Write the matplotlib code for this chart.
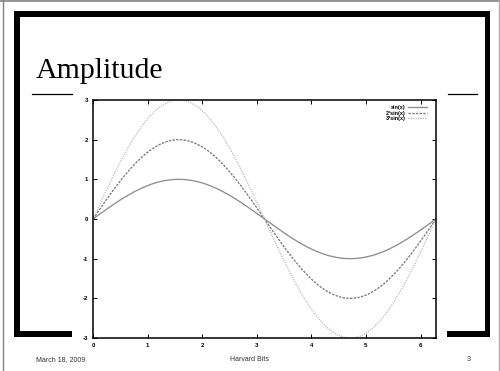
import numpy as np
import matplotlib
matplotlib.use("Agg")
import matplotlib.pyplot as plt
from matplotlib.patches import Rectangle
from matplotlib.lines import Line2D

W, H = 500, 371

# Curve definitions
amplitudes = [1, 2, 3]
labels = ["sin(x)", "2*sin(x)", "3*sin(x)"]
colors = ["#8e8e8e", "#7a7a7a", "#b4b4b4"]
styles = ["-", (0, (1.8, 1.0)), (0, (0.8, 1.0))]
x_ticks = [0, 1, 2, 3, 4, 5, 6]
y_ticks = [-3, -2, -1, 0, 1, 2, 3]

x = np.linspace(0, 2 * np.pi, 400)

fig = plt.figure(figsize=(W / 100, H / 100), dpi=100)
fig.patch.set_facecolor("white")


def rect(x0, y0, x1, y1, color="black"):
    """Rectangle given in pixel coordinates measured from the top-left."""
    fig.patches.append(Rectangle((x0 / W, 1 - y1 / H), (x1 - x0) / W, (y1 - y0) / H,
                                 transform=fig.transFigure, facecolor=color,
                                 edgecolor="none", zorder=0))


def hline(x0, x1, y, color="black", lw=1.0):
    fig.add_artist(Line2D([x0 / W, x1 / W], [1 - y / H, 1 - y / H],
                          transform=fig.transFigure, color=color, lw=lw))


def vline(x0, y0, y1, color="black", lw=1.0):
    fig.add_artist(Line2D([x0 / W, x0 / W], [1 - y0 / H, 1 - y1 / H],
                          transform=fig.transFigure, color=color, lw=lw))


# Slide border (top, left, right)
hline(0, W, 0.5, color="#808080", lw=1.2)
vline(2.5, 0, H, color="#808080", lw=1.0)
vline(498.5, 0, H, color="#b0b0b0", lw=1.0)

# Heavy slide frame
rect(14, 11, 490, 17)
rect(14, 11, 20, 337)
rect(485, 11, 490, 337)
rect(14, 331, 72, 337)
rect(447, 331, 490, 337)

# Thin rules under the title
hline(32, 72, 93.5, lw=0.9)
hline(448, 477, 93.5, lw=0.9)

# Title and footer
fig.text(36 / W, 1 - 78 / H, "Amplitude", family="Liberation Serif",
         fontsize=21.5, ha="left", va="baseline")
fig.text(36 / W, 1 - 361 / H, "March 18, 2009", family="Liberation Sans",
         fontsize=5, ha="left", va="baseline", color="#333333")
fig.text(250 / W, 1 - 361 / H, "Harvard Bits", family="Liberation Sans",
         fontsize=5, ha="center", va="baseline", color="#333333")
fig.text(469 / W, 1 - 361 / H, "3", family="Liberation Sans",
         fontsize=5, ha="center", va="baseline", color="#333333")

# Plot area
ax = fig.add_axes([93 / W, 1 - 338 / H, (436 - 93) / W, (338 - 100) / H])
ax.set_facecolor("white")
for a, lab, c, ls in zip(amplitudes, labels, colors, styles):
    ax.plot(x, a * np.sin(x), color=c, linestyle=ls, lw=0.95, label=lab)

ax.set_xlim(0, 2 * np.pi)
ax.set_ylim(-3, 3)
ax.set_xticks(x_ticks)
ax.set_yticks(y_ticks)
ax.set_xticklabels([str(v) for v in x_ticks])
ax.set_yticklabels([str(v) for v in y_ticks])
ax.tick_params(direction="in", length=3, width=0.7, top=True, right=True,
               labelsize=4.4, pad=3.5)
for lbl in ax.get_xticklabels() + ax.get_yticklabels():
    lbl.set_fontweight("bold")
    lbl.set_family("Liberation Sans")
for sp in ax.spines.values():
    sp.set_linewidth(1.1)

leg = ax.legend(loc="upper right", bbox_to_anchor=(0.98, 0.986),
                frameon=False, markerfirst=False,
                prop={"family": "Liberation Sans", "weight": "bold", "size": 4},
                handlelength=3.5, handletextpad=0.4, labelspacing=0.12,
                borderaxespad=0.0, borderpad=0.3)

fig.savefig("out.png", dpi=100)
